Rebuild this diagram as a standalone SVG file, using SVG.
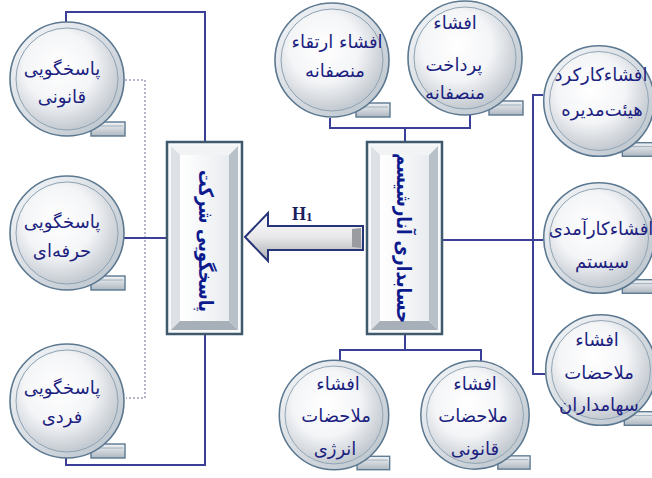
<svg xmlns="http://www.w3.org/2000/svg" xmlns:xlink="http://www.w3.org/1999/xlink" width="652" height="478" viewBox="0 0 652 478">
<style>
.ln{fill:none;stroke:#3b3f98;stroke-width:2}
.dash{fill:none;stroke:#6a6f9a;stroke-width:1;stroke-dasharray:2 2}
.t{font-family:"DejaVu Sans",sans-serif;font-size:18px;fill:#1c1f80;text-anchor:middle}
.bt{font-family:"DejaVu Sans",sans-serif;font-size:20px;font-weight:bold;fill:#0d1a8c;text-anchor:middle}
.h{font-family:"Liberation Serif",serif;font-weight:bold;fill:#1a1f5e}
</style>
<defs>
<radialGradient id="sphere" cx="0.42" cy="0.38" r="0.62">
<stop offset="0" stop-color="#ffffff"/>
<stop offset="0.55" stop-color="#f4f5f7"/>
<stop offset="1" stop-color="#c4cad1"/>
</radialGradient>
<linearGradient id="rim" x1="0" y1="0" x2="1" y2="1">
<stop offset="0" stop-color="#f6f8fa"/>
<stop offset="1" stop-color="#b8c1ca"/>
</linearGradient>
<linearGradient id="tailg" x1="0" y1="0" x2="0" y2="1">
<stop offset="0" stop-color="#f2f4f6"/>
<stop offset="1" stop-color="#aeb7c0"/>
</linearGradient>
<linearGradient id="face" x1="0" y1="0" x2="1" y2="0">
<stop offset="0" stop-color="#ffffff"/>
<stop offset="1" stop-color="#e9ecef"/>
</linearGradient>
<linearGradient id="arrowg" x1="0" y1="0" x2="0" y2="1">
<stop offset="0" stop-color="#ffffff"/>
<stop offset="0.5" stop-color="#e8e8ea"/>
<stop offset="1" stop-color="#a9abb0"/>
</linearGradient>
<g id="bubble">
<rect x="24" y="43" width="34" height="14" fill="url(#tailg)" stroke="#5b7890" stroke-width="1.4"/>
<line x1="28" y1="47" x2="56" y2="47" stroke="#8fa3b3" stroke-width="0.8"/>
<circle r="57" fill="url(#rim)" stroke="#5b7890" stroke-width="1.6"/>
<circle r="51" fill="url(#sphere)" stroke="#8ea2b2" stroke-width="1"/>
</g>
<g id="box">
<rect x="0" y="0" width="75" height="192" fill="#f7f8f9" stroke="#3f5a6c" stroke-width="2.5"/>
<polygon points="4,4 71,4 62,13 13,13" fill="#f2f3f5"/>
<polygon points="4,4 13,13 13,179 4,188" fill="#dde1e5"/>
<polygon points="71,4 71,188 62,179 62,13" fill="#b9c1c8"/>
<polygon points="4,188 13,179 62,179 71,188" fill="#a7b0b8"/>
<rect x="13" y="13" width="49" height="166" fill="url(#face)"/>
</g>
</defs>

<g id="connectors">
<path class="ln" d="M66,22 V12 H205 V142"/>
<path class="ln" d="M205,334 V465 H66 V457"/>
<path class="dash" d="M125,80 H145 V398 H126"/>
<path class="ln" d="M124,238 H167"/>
<path class="ln" d="M330,118 V128 H470 V115"/>
<path class="ln" d="M405,128 V143"/>
<path class="ln" d="M405,333 V350"/>
<path class="ln" d="M340,360 V350 H481 V361"/>
<path class="ln" d="M543,95 H533 V374 H545"/>
<path class="ln" d="M442,240 H543"/>
</g>

<g id="arrow-h1">
<polygon points="245,237 268,213 268,226 363,226 363,250 268,250 268,261" fill="url(#arrowg)" stroke="#263578" stroke-width="2" stroke-linejoin="miter"/>
<polygon points="352,229 361,228 361,248 352,247" fill="#9a9ca2"/>
<text class="h" x="292" y="220" font-size="18">H<tspan font-size="13" dy="1">1</tspan></text>
</g>

<g id="node-legal">
<use xlink:href="#bubble" transform="translate(67,79)"/>
<text class="t" x="62" y="75">پاسخگویی</text>
<text class="t" x="62" y="103">قانونی</text>
</g>
<g id="node-professional">
<use xlink:href="#bubble" transform="translate(67,233)"/>
<text class="t" x="62" y="228">پاسخگویی</text>
<text class="t" x="62" y="257">حرفه‌ای</text>
</g>
<g id="node-individual">
<use xlink:href="#bubble" transform="translate(67,401)"/>
<text class="t" x="62" y="394">پاسخگویی</text>
<text class="t" x="62" y="423">فردی</text>
</g>

<g id="box-accountability">
<use xlink:href="#box" transform="translate(167,142)"/>
<text class="bt" transform="translate(206,241) rotate(90)" y="7" textLength="142" lengthAdjust="spacingAndGlyphs">پاسخگویی شرکت</text>
</g>
<g id="box-anarchism">
<use xlink:href="#box" transform="translate(367,142)"/>
<text class="bt" transform="translate(404,238) rotate(90)" y="7" textLength="170" lengthAdjust="spacingAndGlyphs">حسابداری آنارشیسم</text>
</g>

<g id="node-fair-promotion">
<use xlink:href="#bubble" transform="translate(332,60)"/>
<text class="t" x="337" y="48">افشاء ارتقاء</text>
<text class="t" x="335" y="77">منصفانه</text>
</g>
<g id="node-fair-payment">
<use xlink:href="#bubble" transform="translate(465,58)"/>
<text class="t" x="455" y="29">افشاء</text>
<text class="t" x="454" y="71">پرداخت</text>
<text class="t" x="455" y="99">منصفانه</text>
</g>

<g id="node-board">
<use xlink:href="#bubble" transform="translate(599,101) scale(0.97)"/>
<text class="t" x="601" y="81">افشاءکارکرد</text>
<text class="t" x="602" y="116">هیئت‌مدیره</text>
</g>
<g id="node-system">
<use xlink:href="#bubble" transform="translate(599,238) scale(0.97)"/>
<text class="t" x="601" y="235">افشاءکارآمدی</text>
<text class="t" x="602" y="268">سیستم</text>
</g>
<g id="node-shareholders">
<use xlink:href="#bubble" transform="translate(601,370) scale(0.97)"/>
<text class="t" x="597" y="346">افشاء</text>
<text class="t" x="599" y="379">ملاحضات</text>
<text class="t" x="599" y="411">سهامداران</text>
</g>

<g id="node-energy">
<use xlink:href="#bubble" transform="translate(334,415) scale(0.96)"/>
<text class="t" x="338" y="390">افشاء</text>
<text class="t" x="336" y="422">ملاحضات</text>
<text class="t" x="335" y="455">انرژی</text>
</g>
<g id="node-legal-notes">
<use xlink:href="#bubble" transform="translate(475,415) scale(0.95)"/>
<text class="t" x="475" y="390">افشاء</text>
<text class="t" x="473" y="422">ملاحضات</text>
<text class="t" x="475" y="455">قانونی</text>
</g>
</svg>
